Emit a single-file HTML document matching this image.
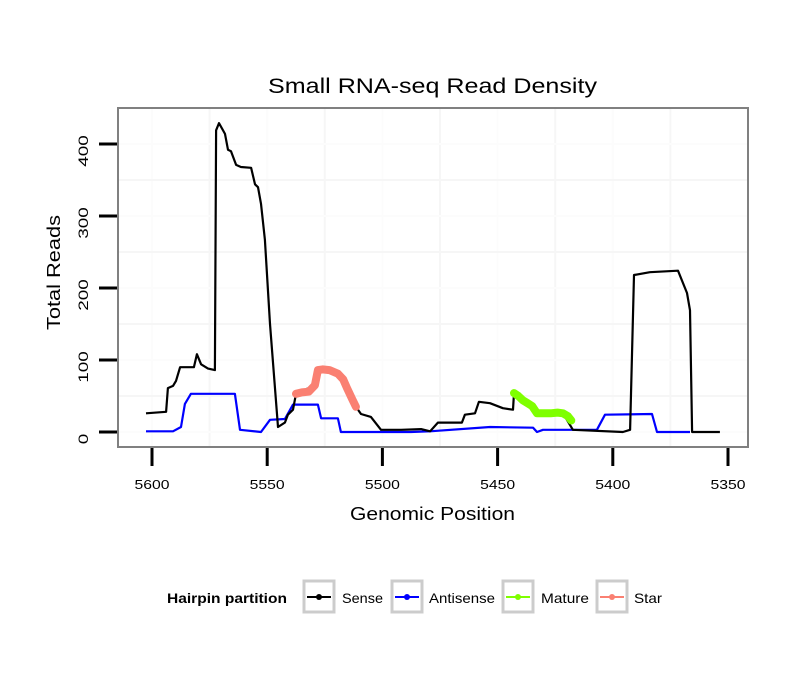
<!DOCTYPE html>
<html><head><meta charset="utf-8"><style>
html,body{margin:0;padding:0;background:#fff;}
svg{display:block;font-family:"Liberation Sans",Arial,sans-serif;}
</style></head><body>
<svg id="chart" width="810" height="690" viewBox="0 0 810 690">
<rect x="0" y="0" width="810" height="690" fill="#fff"/>
<text x="268" y="93" font-size="21" textLength="329" lengthAdjust="spacingAndGlyphs" fill="#000">Small RNA-seq Read Density</text>
<g id="grid"></g>
<g id="series"></g>
<rect x="118" y="108" width="630" height="339" fill="none" stroke="#808080" stroke-width="2"/>
<g id="axes"></g>
<text x="350" y="520" font-size="18" textLength="165" lengthAdjust="spacingAndGlyphs">Genomic Position</text>
<text x="0" y="0" font-size="18" textLength="115" lengthAdjust="spacingAndGlyphs" transform="translate(60,330) rotate(-90)">Total Reads</text>
<g>
<text x="167" y="603" font-size="14" font-weight="bold" textLength="120" lengthAdjust="spacingAndGlyphs">Hairpin partition</text>
<g>
<rect x="304" y="581" width="30" height="31" fill="#fff" stroke="#cccccc" stroke-width="3"/>
<line x1="307" y1="597" x2="331" y2="597" stroke="#000" stroke-width="2"/><circle cx="319" cy="597" r="3" fill="#000"/>
<text x="342" y="603" font-size="14" textLength="41" lengthAdjust="spacingAndGlyphs">Sense</text></g>
<g>
<rect x="392" y="581" width="30" height="31" fill="#fff" stroke="#cccccc" stroke-width="3"/>
<line x1="395" y1="597" x2="419" y2="597" stroke="#0000ff" stroke-width="2"/><circle cx="407" cy="597" r="3" fill="#0000ff"/>
<text x="429" y="603" font-size="14" textLength="66" lengthAdjust="spacingAndGlyphs">Antisense</text></g>
<g>
<rect x="503" y="581" width="30" height="31" fill="#fff" stroke="#cccccc" stroke-width="3"/>
<line x1="506" y1="597" x2="530" y2="597" stroke="#7fff00" stroke-width="2"/><circle cx="518" cy="597" r="3" fill="#7fff00"/>
<text x="541" y="603" font-size="14" textLength="48" lengthAdjust="spacingAndGlyphs">Mature</text></g>
<g>
<rect x="597" y="581" width="30" height="31" fill="#fff" stroke="#cccccc" stroke-width="3"/>
<line x1="600" y1="597" x2="624" y2="597" stroke="#fa8072" stroke-width="2"/><circle cx="612" cy="597" r="3" fill="#fa8072"/>
<text x="634" y="603" font-size="14" textLength="28" lengthAdjust="spacingAndGlyphs">Star</text></g>
</g>
</svg>
<script>
const xTicks=[5600,5550,5500,5450,5400,5350];
const yTicks=[0,100,200,300,400];
const senseX=[5602.6,5593.9,5593.1,5590.9,5589.6,5587.8,5581.8,5580.5,5578.7,5575.7,5572.7,5572.2,5570.9,5568.3,5567.0,5565.7,5563.5,5561.4,5557.0,5555.3,5554.0,5552.7,5551.0,5548.8,5545.3,5542.3,5541.0,5538.8,5537.5,5529.3,5528.0,5519.3,5514.9,5511.5,5509.3,5505.0,5500.6,5491.9,5483.2,5479.3,5475.9,5465.5,5464.2,5459.8,5458.1,5453.3,5447.7,5443.3,5442.9,5439.0,5432.9,5421.6,5417.3,5395.6,5392.5,5390.8,5383.9,5371.7,5367.8,5366.5,5365.6,5353.5];
const senseY=[26,28,61,64,71,90,90,108,94,88,86,419,429,414,392,390,371,368,367,344,340,317,267,150,7,13,24,31,53,65,86,81,60,35,25,21,3,3,4,1,13,13,24,26,42,40,33,31,54,44,24,26,3,0,3,218,222,224,193,169,0,0];
const antiX=[5602.6,5590.9,5587.4,5585.7,5583.1,5564.0,5561.8,5552.7,5548.8,5542.3,5538.8,5528.0,5526.6,5519.3,5518.0,5487.6,5479.3,5453.3,5434.6,5432.9,5430.3,5406.9,5403.4,5383.0,5380.8,5366.5];
const antiY=[1,1,7,39,53,53,3,0,17,18,38,38,19,19,0,0,1,7,6,0,3,3,24,25,0,0];
const starX=[5537.5,5535,5532,5529.3,5528,5526,5523,5519.3,5517,5515.5,5513,5511.5];
const starY=[53,55,56,65,86,87,86,81,73,62,45,35];
const matureX=[5442.9,5441,5439,5437,5435,5432.9,5430,5427,5424,5421.6,5419.5,5418];
const matureY=[54,50,44,40,36,26,26,26,27,26,22,16];

const NS='http://www.w3.org/2000/svg';
const x=v=>152+(5600-v)*2.304;
const y=v=>432-v*0.72;
const grid=document.getElementById('grid');
const axes=document.getElementById('axes');
const series=document.getElementById('series');
function mk(tag,attrs,parent){const e=document.createElementNS(NS,tag);for(const k in attrs)e.setAttribute(k,attrs[k]);parent.appendChild(e);return e;}
for(let v=5375;v<=5625;v+=25){const px=x(v);if(px<119||px>747)continue;
 const g=mk('line',{x1:px,x2:px,y1:109,y2:446,stroke:(v%50===0)?'#fcfcfc':'#f6f6f6','stroke-width':2},grid);
 
 }
for(let v=0;v<=450;v+=50){const py=y(v);if(py<109||py>446)continue;
 const g=mk('line',{x1:119,x2:747,y1:py,y2:py,stroke:(v%100===0)?'#fcfcfc':'#f6f6f6','stroke-width':2},grid);
 
 }
xTicks.forEach(t=>{const px=x(t);
 const l=mk('line',{x1:px,x2:px,y1:448,y2:466,stroke:'#000','stroke-width':3},axes);
 
 
 const tx=mk('text',{x:px-17.5,y:489,'font-size':13,textLength:35,lengthAdjust:'spacingAndGlyphs'},axes);tx.textContent=t;
 
 });
yTicks.forEach(t=>{const py=y(t);
 const l=mk('line',{x1:99,x2:117,y1:py,y2:py,stroke:'#000','stroke-width':3},axes);
 
 
 const len=String(t).length*10.5;
 const tx=mk('text',{x:0,y:0,'font-size':14,textLength:len,lengthAdjust:'spacingAndGlyphs',transform:`translate(88,${py+7+len/2}) rotate(-90)`},axes);tx.textContent=t;
 
 });
function path(xs,ys){return xs.map((v,i)=>(i?'L':'M')+x(v).toFixed(1)+','+y(ys[i]).toFixed(1)).join('');}
const a=mk('path',{d:path(antiX,antiY),fill:'none',stroke:'#0000ff','stroke-width':2.2,'stroke-linejoin':'round'},series);


const s=mk('path',{d:path(senseX,senseY),fill:'none',stroke:'#000','stroke-width':2.2,'stroke-linejoin':'round'},series);


const st=mk('path',{d:path(starX,starY),fill:'none',stroke:'#fa8072','stroke-width':8,'stroke-linejoin':'round','stroke-linecap':'round'},series);


const mt=mk('path',{d:path(matureX,matureY),fill:'none',stroke:'#7fff00','stroke-width':8,'stroke-linejoin':'round','stroke-linecap':'round'},series);


</script>
</body></html>
